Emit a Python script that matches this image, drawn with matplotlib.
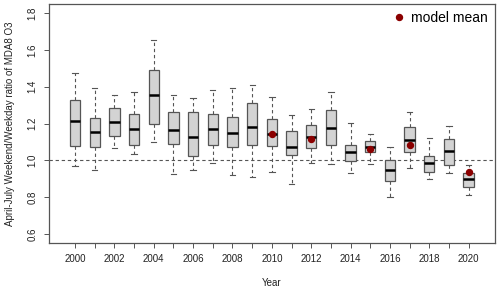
import matplotlib
matplotlib.use("Agg")
import matplotlib.pyplot as plt

# Data
years = list(range(2000, 2021))
q1 = [1.081, 1.074, 1.133, 1.085, 1.198, 1.090, 1.022, 1.085, 1.072, 1.083,
      1.081, 1.031, 1.068, 1.085, 0.995, 1.047, 0.886, 1.047, 0.939, 0.977, 0.858]
med = [1.215, 1.155, 1.209, 1.173, 1.355, 1.166, 1.130, 1.171, 1.150, 1.182,
       1.144, 1.072, 1.128, 1.175, 1.045, 1.074, 0.950, 1.112, 0.987, 1.052, 0.897]
q3 = [1.331, 1.229, 1.283, 1.252, 1.492, 1.265, 1.261, 1.254, 1.236, 1.310,
      1.225, 1.160, 1.191, 1.274, 1.086, 1.108, 1.000, 1.184, 1.023, 1.114, 0.931]
whis_lo = [0.971, 0.950, 1.067, 1.036, 1.101, 0.924, 0.946, 0.989, 0.921, 0.912,
           0.935, 0.870, 0.987, 0.982, 0.933, 0.982, 0.804, 0.960, 0.897, 0.933, 0.815]
whis_hi = [1.477, 1.396, 1.355, 1.371, 1.656, 1.353, 1.337, 1.384, 1.393, 1.409,
           1.342, 1.247, 1.279, 1.373, 1.205, 1.142, 1.074, 1.265, 1.123, 1.186, 0.973]
model_years = [2010, 2012, 2015, 2017, 2020]
model_mean = [1.142, 1.114, 1.061, 1.086, 0.937]

plt.rcParams['font.family'] = ['Liberation Sans', 'DejaVu Sans']
EDGE = '#555555'

fig = plt.figure(figsize=(5, 2.92), dpi=100)
ax = fig.add_axes([0.0974, 0.1678, 0.8926, 0.8175])

stats = [dict(med=m, q1=a, q3=b, whislo=lo, whishi=hi, fliers=[])
         for m, a, b, lo, hi in zip(med, q1, q3, whis_lo, whis_hi)]
ax.bxp(stats, positions=years, widths=0.53, patch_artist=True,
       showfliers=False, capwidths=0.27,
       boxprops=dict(facecolor='#D3D3D3', edgecolor=EDGE, linewidth=0.9),
       medianprops=dict(color='black', linewidth=1.8),
       whiskerprops=dict(color=EDGE, linewidth=0.8, linestyle=(0, (3, 2.5))),
       capprops=dict(color=EDGE, linewidth=0.8))

ax.axhline(1.0, color=EDGE, linewidth=0.8, linestyle=(0, (3, 2.5)), zorder=0.5)
ax.plot(model_years, model_mean, 'o', color='#8B0000', markersize=4.3,
        linestyle='none', label='model mean', zorder=5)

ax.set_xlim(1998.66, 2021.34)
ax.set_ylim(0.552, 1.848)
ax.set_xticks(years)
ax.set_xticklabels([str(y) if y % 2 == 0 else '' for y in years])
ax.set_yticks([0.6, 0.8, 1.0, 1.2, 1.4, 1.6, 1.8])
ax.set_yticklabels(['0.6', '0.8', '1.0', '1.2', '1.4', '1.6', '1.8'],
                   rotation=90, va='center')
ax.tick_params(axis='both', labelsize=7, length=3.6, width=0.7,
               color=EDGE, labelcolor='#222222', pad=4.5)
for s in ax.spines.values():
    s.set_color(EDGE)
    s.set_linewidth(0.9)

ax.set_xlabel('Year', fontsize=7, color='#222222', labelpad=10)
ax.set_ylabel('April-July Weekend/Weekday ratio of MDA8 O3', fontsize=7,
              color='#222222', labelpad=9)

ax.legend(loc='upper right', frameon=False, fontsize=10, handletextpad=0.4,
          handlelength=1.0, borderaxespad=0.3, borderpad=0.2)

fig.savefig('out.png', dpi=100)
